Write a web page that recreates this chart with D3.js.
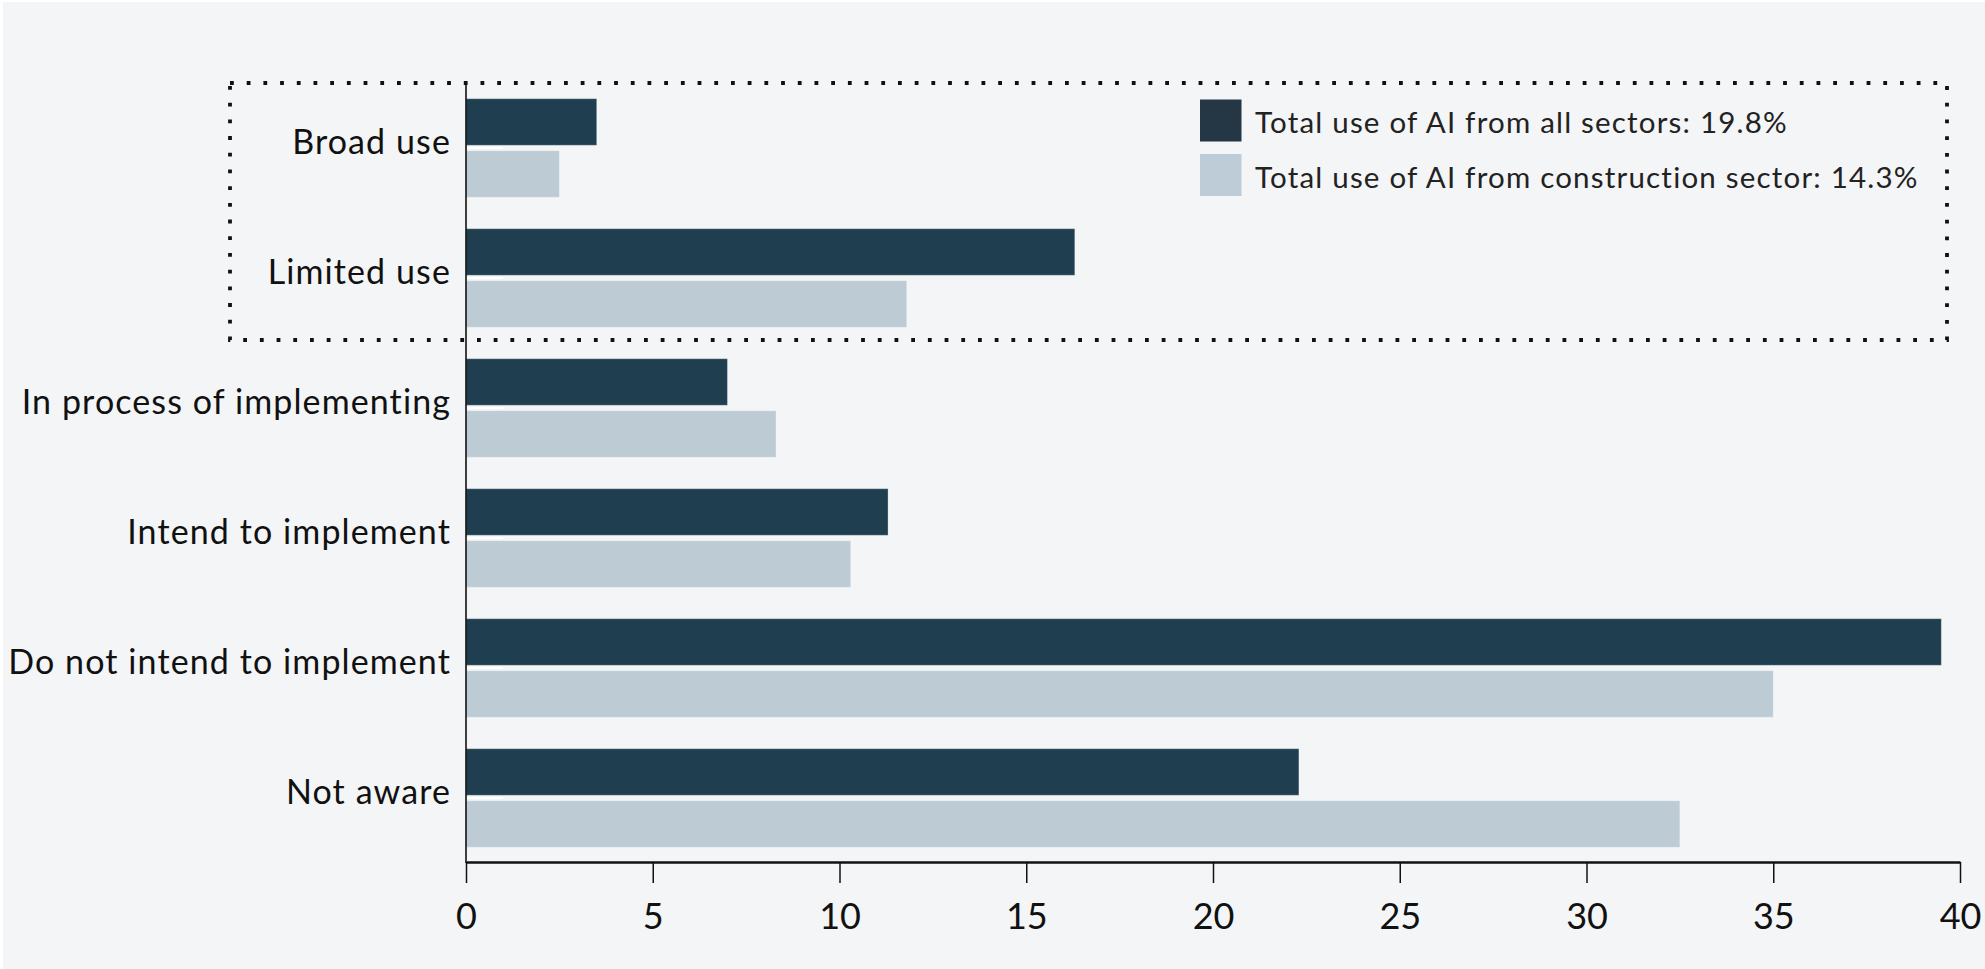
<!DOCTYPE html>
<html>
<head>
<meta charset="utf-8">
<script src="https://cdn.jsdelivr.net/npm/d3@7/dist/d3.min.js"></script>
<style>
  html, body { margin: 0; padding: 0; background: #ffffff; }
  svg { display: block; }
  text { font-family: Lato, "Open Sans", sans-serif; }
</style>
</head>
<body>
<script>
const categories = ["Broad use", "Limited use", "In process of implementing", "Intend to implement", "Do not intend to implement", "Not aware"];
const seriesNames = ["Total use of AI from all sectors: 19.8%", "Total use of AI from construction sector: 14.3%"];
const allSectors = [3.5, 16.3, 7.0, 11.3, 39.5, 22.3];
const construction = [2.5, 11.8, 8.3, 10.3, 35.0, 32.5];
const xTicks = [0, 5, 10, 15, 20, 25, 30, 35, 40];

const W = 1985, H = 969;
const barColors = ["#1f3f50", "#bdcbd4"];
const legendColors = ["#253645", "#bdccd7"];

const svg = d3.select("body").append("svg").attr("width", W).attr("height", H);
svg.append("rect").attr("x", 3).attr("y", 2).attr("width", W - 3).attr("height", H - 2).attr("fill", "#f4f5f7");

const x = d3.scaleLinear().domain([0, 40]).range([466, 1960]);
const y = d3.scaleBand().domain(categories).range([83, 863]).paddingInner(0.2415).paddingOuter(0.12075);
const yInner = d3.scaleBand().domain([0, 1]).range([0, y.bandwidth()]).paddingInner(0.104).paddingOuter(0);

const data = categories.map((c, i) => ({cat: c, vals: [allSectors[i], construction[i]]}));

// dotted highlight box around first two categories
const boxTop = 83, boxBottom = 340;
svg.append("rect")
  .attr("x", 230).attr("y", boxTop).attr("width", 1947 - 230).attr("height", boxBottom - boxTop)
  .attr("fill", "none").attr("stroke", "#111").attr("stroke-width", 3.8)
  .attr("stroke-dasharray", "3.8 12.9");

// bars
const groups = svg.append("g").selectAll("g").data(data).join("g")
  .attr("transform", d => `translate(0,${y(d.cat)})`);
groups.selectAll("rect").data(d => d.vals.map((v, k) => ({v, k}))).join("rect")
  .attr("x", x(0))
  .attr("y", d => yInner(d.k))
  .attr("width", d => x(d.v) - x(0))
  .attr("height", yInner.bandwidth())
  .attr("fill", d => barColors[d.k])
  .attr("stroke", "#ffffff").attr("stroke-opacity", 0.3).attr("stroke-width", 1);

// y axis (white inward ticks, custom labels)
const yAxisG = svg.append("g");
yAxisG.selectAll("line.tick").data(categories).join("line")
  .attr("x1", x(0)).attr("x2", x(0) + 37)
  .attr("y1", d => y(d) + y.bandwidth() / 2).attr("y2", d => y(d) + y.bandwidth() / 2)
  .attr("stroke", "#ffffff").attr("stroke-width", 2);
yAxisG.append("line")
  .attr("x1", x(0)).attr("x2", x(0)).attr("y1", 82).attr("y2", 863)
  .attr("stroke", "#111").attr("stroke-width", 1.6);
yAxisG.selectAll("text").data(categories).join("text")
  .attr("x", 451)
  .attr("y", d => y(d) + y.bandwidth() / 2 + 5.5)
  .attr("text-anchor", "end")
  .attr("font-size", 34)
  .attr("letter-spacing", 1.1)
  .attr("fill", "#111")
  .text(d => d);

// x axis
const xAxis = d3.axisBottom(x).tickValues(xTicks).tickFormat(d3.format("d"))
  .tickSize(21).tickSizeOuter(0).tickPadding(20);
const xg = svg.append("g").attr("transform", "translate(0,862)").call(xAxis);
xg.select(".domain").attr("stroke", "#111").attr("stroke-width", 2.5);
xg.selectAll(".tick line").attr("stroke", "#111").attr("stroke-width", 1.5);
xg.selectAll(".tick text").attr("font-size", 36).attr("fill", "#111")
  .attr("font-family", "Lato, 'Open Sans', sans-serif");

// legend
const lg = svg.append("g");
seriesNames.forEach((name, i) => {
  lg.append("rect").attr("x", 1200).attr("y", 99.5 + i * 54.5).attr("width", 41.5).attr("height", 42)
    .attr("fill", legendColors[i]);
  lg.append("text").attr("x", 1255).attr("y", 133 + i * 54.5)
    .attr("font-size", 29.5).attr("letter-spacing", 1.2).attr("fill", "#222").text(name);
});
</script>
</body>
</html>
